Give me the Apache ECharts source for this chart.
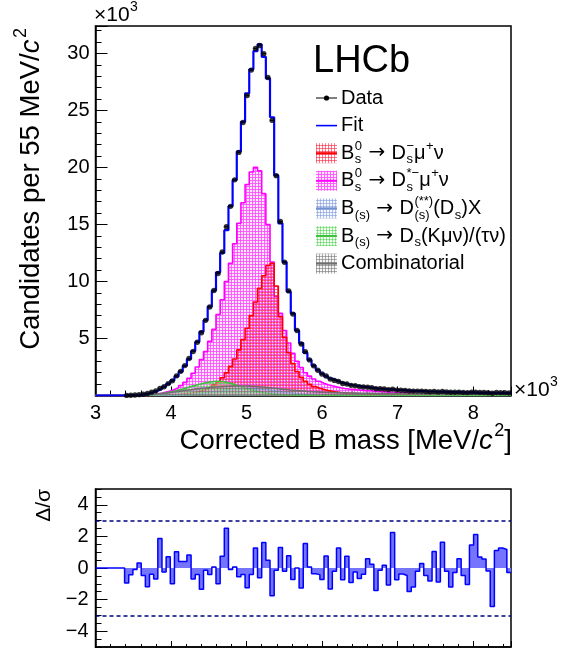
<!DOCTYPE html>
<html><head><meta charset="utf-8">
<script src="https://cdn.jsdelivr.net/npm/echarts@6/dist/echarts.min.js"></script>
<style>html,body{margin:0;padding:0;background:#fff}#c{width:561px;height:652px}</style>
</head><body><div id="c"></div>
<script>
// ---- binning (corrected B mass, in units of 10^3 MeV/c^2) ----
const binLow = 3.0, binWidth = 0.055, nBins = 100;

// ---- values per bin (x10^3 candidates) ----
const fitTotal = [
0,0,0,0,0,0,0,0.01,0.02,0.04,
0.07,0.12,0.2,0.3,0.42,0.58,0.78,1.02,1.32,1.68,
2.1,2.6,3.2,3.9,4.7,5.6,6.6,7.8,9.2,10.8,
12.5,14.5,16.6,18.9,21.4,24.0,26.5,28.6,30.2,30.8,
29.7,27.8,24.4,19.3,15.1,11.7,9.1,7.2,5.7,4.6,
3.75,3.12,2.62,2.23,1.92,1.68,1.49,1.33,1.19,1.07,
0.98,0.92,0.86,0.80,0.75,0.71,0.67,0.63,0.60,0.57,
0.54,0.51,0.49,0.47,0.45,0.43,0.41,0.39,0.38,0.36,
0.35,0.34,0.33,0.32,0.31,0.30,0.29,0.29,0.28,0.27,
0.27,0.26,0.26,0.25,0.25,0.24,0.24,0.23,0.23,0.23];

const dataCounts = [
null,null,null,null,null,null,null,0.007,0.018,0.039,
0.073,0.115,0.183,0.293,0.406,0.625,0.773,1.043,1.284,1.722,
2.119,2.621,3.246,3.857,4.672,5.499,6.588,7.764,9.206,10.696,
12.584,14.803,16.587,18.908,21.318,23.936,26.296,28.531,30.421,30.691,
29.977,27.882,24.125,19.279,15.26,11.678,9.174,7.139,5.7,4.514,
3.845,3.123,2.602,2.21,1.888,1.711,1.439,1.322,1.234,1.046,
1.003,0.892,0.853,0.781,0.739,0.726,0.676,0.594,0.596,0.574,
0.515,0.561,0.474,0.462,0.44,0.399,0.386,0.386,0.385,0.351,
0.334,0.359,0.314,0.349,0.306,0.279,0.285,0.30,0.272,0.253,
0.294,0.294,0.271,0.259,0.247,0.202,0.257,0.249,0.248,0.226];

const dsMuNu = [
0,0,0,0,0,0,0,0,0,0,
0,0,0,0,0,0,0.03,0.04,0.06,0.08,
0.11,0.15,0.2,0.27,0.35,0.45,0.58,0.75,0.95,1.2,
1.55,2.0,2.55,3.2,4.0,4.9,5.9,7.0,8.2,9.4,
10.5,11.4,11.6,9.6,6.9,5.1,3.75,2.8,2.1,1.6,
1.25,0.98,0.78,0.63,0.52,0.43,0.36,0.3,0.26,0.22,
0.19,0.17,0.15,0.13,0.12,0.11,0.1,0.09,0.08,0.08,
0.07,0.07,0.07,0.06,0.06,0.06,0.06,0.05,0.05,0.05,
0.05,0.05,0.05,0.05,0.045,0.045,0.045,0.04,0.04,0.04,
0.04,0.04,0.035,0.035,0.035,0.035,0.03,0.03,0.03,0.03];

const dsStarMuNu = [
0,0,0,0,0,0,0,0,0,0,
0,0,0.08,0.12,0.16,0.22,0.3,0.4,0.52,0.68,
0.88,1.15,1.5,1.95,2.5,3.15,3.85,4.75,5.8,7.1,
8.4,10.0,11.6,13.3,15.1,16.9,18.5,19.6,20.0,19.7,
17.7,15.0,11.7,8.7,7.2,5.7,4.6,3.7,3.0,2.45,
2.0,1.7,1.45,1.25,1.08,0.95,0.85,0.76,0.68,0.62,
0.57,0.54,0.5,0.47,0.43,0.41,0.38,0.36,0.34,0.31,
0.3,0.27,0.25,0.24,0.22,0.21,0.19,0.18,0.17,0.16,
0.15,0.14,0.14,0.13,0.12,0.12,0.11,0.11,0.1,0.1,
0.1,0.09,0.09,0.09,0.08,0.08,0.08,0.07,0.07,0.07];

const dDsX = [
0,0,0,0,0,0,0,0,0,0,
0,0,0,0,0,0,0.01,0.015,0.02,0.035,
0.05,0.07,0.1,0.13,0.17,0.21,0.26,0.3,0.35,0.4,
0.45,0.49,0.53,0.56,0.58,0.59,0.6,0.59,0.58,0.55,
0.52,0.48,0.43,0.38,0.33,0.28,0.24,0.2,0.16,0.13,
0.1,0.08,0.06,0.05,0.04,0.03,0.02,0.02,0.01,0.01,
0.01,0.01,0.01,0.01,0.01,0.005,0.005,0.005,0.005,0.005,
0,0,0,0,0,0,0,0,0,0,
0,0,0,0,0,0,0,0,0,0,
0,0,0,0,0,0,0,0,0,0];

const dsKMuNuTauNu = [
0,0,0,0,0,0,0,0,0,0,
0.02,0.03,0.05,0.08,0.12,0.17,0.23,0.3,0.38,0.47,
0.57,0.67,0.78,0.88,0.98,1.07,1.15,1.21,1.25,1.25,
1.2,1.12,1.02,0.9,0.78,0.66,0.55,0.45,0.36,0.28,
0.22,0.17,0.13,0.1,0.08,0.06,0.05,0.04,0.03,0.02,
0.02,0.015,0.015,0.01,0.01,0.01,0.01,0.008,0.008,0.006,
0.005,0.005,0.005,0.005,0.005,0.005,0.005,0.005,0.005,0.005,
0.003,0.003,0.003,0.003,0.003,0.003,0.003,0.003,0.003,0.003,
0.002,0.002,0.002,0.002,0.002,0.002,0.002,0.002,0.002,0.002,
0.002,0.002,0.002,0.002,0.002,0.002,0.002,0.002,0.002,0.002];

const combinatorial = [
0,0,0,0,0,0,0,0.005,0.01,0.02,
0.035,0.05,0.07,0.1,0.13,0.17,0.21,0.26,0.31,0.36,
0.41,0.46,0.51,0.56,0.6,0.64,0.68,0.71,0.74,0.77,
0.79,0.81,0.82,0.83,0.83,0.83,0.82,0.8,0.78,0.75,
0.72,0.68,0.64,0.6,0.56,0.52,0.48,0.45,0.42,0.39,
0.36,0.34,0.32,0.3,0.28,0.27,0.26,0.25,0.24,0.23,
0.22,0.21,0.21,0.2,0.2,0.19,0.19,0.18,0.18,0.18,
0.17,0.17,0.17,0.16,0.16,0.16,0.16,0.15,0.15,0.15,
0.15,0.15,0.14,0.14,0.14,0.14,0.14,0.14,0.14,0.13,
0.13,0.13,0.13,0.13,0.13,0.13,0.13,0.13,0.13,0.13];

const pulls = [
0,0,0,0,0,0,0,-0.95,-0.43,-0.1,
0.32,-0.47,-1.18,-0.4,-0.69,1.87,-0.26,0.71,-1.0,1.03,
0.41,0.41,0.82,-0.69,-0.41,-1.35,-0.15,-0.41,0.06,-1.0,
0.75,2.52,-0.1,0.06,-0.56,-0.41,-1.25,-0.41,1.27,-0.62,
1.61,0.49,-1.76,-0.15,1.3,-0.2,0.78,-0.72,0.0,-1.27,
1.55,0.06,-0.36,-0.42,-0.72,0.76,-1.33,-0.21,1.27,-0.74,
0.74,-0.91,-0.25,-0.66,-0.4,0.59,0.23,-1.42,-0.15,0.17,
-1.08,2.25,-0.74,-0.38,-0.47,-1.48,-1.2,-0.21,0.28,-0.47,
-0.83,1.04,-0.89,1.63,-0.21,-1.2,-0.28,0.59,-0.47,-1.04,
1.46,2.12,0.7,0.57,-0.19,-2.44,1.1,1.27,1.17,-0.28];

const pullBands = [3, -3];
const pullTicks = [-4, -2, 0, 2, 4];

// ---- helpers ----
const FONT = '"Liberation Sans", Arial, Helvetica, sans-serif';
const ARROW_FONT = '"DejaVu Sans", sans-serif';
const edge = i => +(binLow + binWidth * i).toFixed(4);
const xMax = edge(nBins);
const hist = vals => vals.map((v, i) => [edge(i), v]).concat([[edge(vals.length), vals[vals.length - 1]]]);

function makePattern(line, cell, off) {
  const c = document.createElement('canvas'); c.width = 3; c.height = 3;
  const g = c.getContext('2d');
  if (cell) { g.fillStyle = cell; g.fillRect(0, 0, 3, 3); }
  g.fillStyle = line; g.fillRect(0, off, 3, 1); g.fillRect(off, 0, 1, 3);
  return { image: c, repeat: 'repeat' };
}
const patMag = makePattern('rgba(255,70,255,0.8)', 'rgba(255,215,255,0.6)', 0);
const patRed = makePattern('rgba(255,30,60,0.6)', null, 1);
const patBlue = makePattern('rgba(110,140,215,0.5)', 'rgba(220,230,250,0.3)', 2);
const patGreen = makePattern('rgba(60,205,60,0.5)', 'rgba(220,250,220,0.3)', 2);
const patGrey = makePattern('rgba(100,100,100,0.5)', 'rgba(225,225,225,0.3)', 1);

const comps = [
  { name: 'dsStar', vals: dsStarMuNu, color: '#ff00ff', pat: patMag, z: 2 },
  { name: 'ds', vals: dsMuNu, color: '#ff0000', pat: patRed, z: 3 },
  { name: 'ddsx', vals: dDsX, color: '#7090d0', pat: patBlue, z: 4 },
  { name: 'tau', vals: dsKMuNuTauNu, color: '#40c040', pat: patGreen, z: 5 },
  { name: 'comb', vals: combinatorial, color: '#707070', pat: patGrey, z: 6 }
];

const mctx = document.createElement('canvas').getContext('2d');
function tw(s, size, italic, fam) { mctx.font = (italic ? 'italic ' : '') + size + 'px ' + (fam || FONT); return mctx.measureText(s).width; }
function txt(x, y, s, size, italic, color, fam) {
  return { type: 'text', x: x, y: y, silent: true,
    style: { text: s, font: (italic ? 'italic ' : '') + size + 'px ' + (fam || FONT), fill: color || '#000',
      textAlign: 'left', textVerticalAlign: 'middle' } };
}
function layout(tokens, size, color) {
  const els = []; let x = 0; const small = Math.round(size * 0.66);
  tokens.forEach(tk => {
    if (typeof tk === 'string') { els.push(txt(x, 0, tk, size, false, color)); x += tw(tk, size); }
    else if (tk.it) { els.push(txt(x, 0, tk.it, size, true, color)); x += tw(tk.it, size, true) + 1; }
    else if (tk.sym) { els.push(txt(x, 0, tk.sym, size, false, color, ARROW_FONT)); x += tw(tk.sym, size, false, ARROW_FONT); }
    else {
      let w = 0;
      if (tk.sup) { els.push(txt(x + 0.5, -size * 0.36, tk.sup, small, false, color)); w = Math.max(w, tw(tk.sup, small)); }
      if (tk.sub) { els.push(txt(x + 0.5, size * 0.33, tk.sub, small, false, color)); w = Math.max(w, tw(tk.sub, small)); }
      x += w + 0.5;
    }
  });
  return { els, width: x };
}
function textGroup(tokens, size, x, y, opt) {
  opt = opt || {};
  const L = layout(tokens, size, opt.color);
  let shift = 0;
  if (opt.align === 'right') shift = -L.width;
  L.els.forEach(e => { e.x += shift; });
  return { type: 'group', x: x, y: y, rotation: opt.rotate ? Math.PI / 2 : 0, children: L.els, silent: true };
}

// ---- legend ----
const ARROW = { sym: ' \u2192 ' };
const legendItems = [
  { kind: 'data', tokens: ['Data'] },
  { kind: 'line', color: '#0000ff', tokens: ['Fit'] },
  { kind: 'box', color: '#ff0000', pat: patRed, tokens: ['B', { sup: '0', sub: 's' }, ARROW, 'D', { sup: '\u2212', sub: 's' }, '\u03bc', { sup: '+' }, '\u03bd'] },
  { kind: 'box', color: '#ff00ff', pat: patMag, tokens: ['B', { sup: '0', sub: 's' }, ARROW, 'D', { sup: '*\u2212', sub: 's' }, '\u03bc', { sup: '+' }, '\u03bd'] },
  { kind: 'box', color: '#7090d0', pat: patBlue, tokens: ['B', { sub: '(s)' }, ARROW, 'D', { sup: '(**)', sub: '(s)' }, '(D', { sub: 's' }, ')X'] },
  { kind: 'box', color: '#40c040', pat: patGreen, tokens: ['B', { sub: '(s)' }, ARROW, 'D', { sub: 's' }, '(K\u03bc\u03bd)/(\u03c4\u03bd)'] },
  { kind: 'box', color: '#707070', pat: patGrey, tokens: ['Combinatorial'] }
];
const legendY0 = 98, legendDy = 27.6, symX = 316, symW = 21, textX = 341;
const graphics = [];
legendItems.forEach((it, k) => {
  const y = legendY0 + k * legendDy;
  if (it.kind === 'data') {
    graphics.push({ type: 'line', silent: true, shape: { x1: symX, y1: y, x2: symX + symW, y2: y }, style: { stroke: '#000', lineWidth: 1 } });
    graphics.push({ type: 'circle', silent: true, shape: { cx: symX + symW / 2, cy: y, r: 2.6 }, style: { fill: '#000' } });
  } else if (it.kind === 'line') {
    graphics.push({ type: 'line', silent: true, shape: { x1: symX, y1: y, x2: symX + symW, y2: y }, style: { stroke: it.color, lineWidth: 1.6 } });
  } else {
    graphics.push({ type: 'rect', silent: true, shape: { x: symX, y: y - 10, width: symW, height: 20 }, style: { fill: it.pat } });
    graphics.push({ type: 'line', silent: true, shape: { x1: symX, y1: y, x2: symX + symW, y2: y }, style: { stroke: it.color, lineWidth: 2 } });
  }
  graphics.push(textGroup(it.tokens, 20, textX, y));
});
graphics.push(textGroup(['LHCb'], 38, 313, 62));
graphics.push(textGroup(['\u00d710', { sup: '3' }], 21, 94, 15));
graphics.push(textGroup(['\u00d710', { sup: '3' }], 21, 514, 390));
graphics.push(textGroup(['Corrected B mass [MeV/', { it: 'c' }, { sup: '2' }, ']'], 27.5, 512, 441, { align: 'right' }));
graphics.push(textGroup(['Candidates per 55 MeV/', { it: 'c' }, { sup: '2' }], 27.5, 31, 28, { align: 'right', rotate: true }));
graphics.push(textGroup(['\u0394/\u03c3'], 21, 44, 489, { align: 'right', rotate: true }));

// ---- series ----
const series = [];
comps.forEach(c => {
  series.push({ type: 'line', name: c.name, xAxisIndex: 0, yAxisIndex: 0, step: 'end', symbol: 'none', z: c.z,
    data: hist(c.vals), lineStyle: { color: c.color, width: 1.6 }, areaStyle: { color: c.pat, opacity: 1 }, silent: true });
});
const dataBins = [];
dataCounts.forEach((v, i) => { if (v !== null) dataBins.push([edge(i), edge(i + 1), v]); });
series.push({ type: 'custom', xAxisIndex: 0, yAxisIndex: 0, z: 7, silent: true, data: dataBins, encode: { x: [0, 1], y: 2 },
  renderItem: (p, api) => {
    const a = api.coord([api.value(0), api.value(2)]), b = api.coord([api.value(1), api.value(2)]);
    return { type: 'line', shape: { x1: a[0], y1: a[1], x2: b[0], y2: b[1] }, style: { stroke: '#000', lineWidth: 1 } };
  } });
series.push({ type: 'line', name: 'Fit', xAxisIndex: 0, yAxisIndex: 0, step: 'end', symbol: 'none', z: 8,
  data: hist(fitTotal), lineStyle: { color: '#0000ff', width: 2.2 }, silent: true });
series.push({ type: 'scatter', name: 'Data', xAxisIndex: 0, yAxisIndex: 0, z: 9, symbol: 'circle', symbolSize: 5.4,
  itemStyle: { color: '#000' }, silent: true,
  data: dataBins.map(d => [(d[0] + d[1]) / 2, d[2]]) });
series.push({ type: 'line', name: 'pull', xAxisIndex: 1, yAxisIndex: 1, step: 'end', symbol: 'none', z: 3,
  data: hist(pulls), lineStyle: { color: '#0000ff', width: 1.5 }, areaStyle: { color: '#7474ff', opacity: 1 }, silent: true,
  markLine: { silent: true, symbol: ['none', 'none'], label: { show: false },
    lineStyle: { color: '#000080', type: [4, 3], width: 1.5 }, data: pullBands.map(v => ({ yAxis: v })) } });

const fmtMinus = v => (v < 0 ? '\u2212' + Math.abs(v) : '' + v);
const axisCommon = { axisLine: { show: true, onZero: false, lineStyle: { color: '#000', width: 1.5 } }, splitLine: { show: false } };

const option = {
  animation: false,
  textStyle: { fontFamily: FONT },
  grid: [
    { left: 95.5, top: 26, width: 415.5, height: 369.5, show: true, borderColor: '#000', borderWidth: 1.5, outerBoundsMode: 'none', containLabel: false },
    { left: 95.5, top: 489, width: 415.5, height: 158, show: true, borderColor: '#000', borderWidth: 1.5, outerBoundsMode: 'none', containLabel: false }
  ],
  xAxis: [
    Object.assign({ type: 'value', gridIndex: 0, min: binLow, max: xMax, interval: 1,
      axisTick: { show: true, inside: true, length: 9, lineStyle: { color: '#000', width: 1 } },
      minorTick: { show: true, splitNumber: 5, length: 5, lineStyle: { color: '#000', width: 1 } },
      axisLabel: { show: true, fontSize: 20, color: '#000', margin: 8, hideOverlap: false, showMinLabel: true, showMaxLabel: true,
        formatter: v => (Math.abs(v - Math.round(v)) < 1e-6 ? '' + Math.round(v) : '') } }, axisCommon),
    Object.assign({ type: 'value', gridIndex: 1, min: binLow, max: xMax, interval: 1,
      axisTick: { show: true, inside: true, length: 6, lineStyle: { color: '#000', width: 1 } },
      minorTick: { show: true, splitNumber: 5, length: 3, lineStyle: { color: '#000', width: 1 } },
      axisLabel: { show: false } }, axisCommon)
  ],
  yAxis: [
    Object.assign({ type: 'value', gridIndex: 0, min: 0, max: 32.4, interval: 5,
      axisTick: { show: true, inside: true, length: 12, lineStyle: { color: '#000', width: 1 } },
      minorTick: { show: true, splitNumber: 5, length: 6, lineStyle: { color: '#000', width: 1 } },
      axisLabel: { show: true, fontSize: 20, color: '#000', margin: 6, hideOverlap: false,
        formatter: v => (v > 0 && Math.abs(v / 5 - Math.round(v / 5)) < 1e-6 ? '' + v : '') } }, axisCommon),
    Object.assign({ type: 'value', gridIndex: 1, min: -5, max: 5, interval: 1,
      axisTick: { show: true, inside: true, length: 12, customValues: pullTicks, lineStyle: { color: '#000', width: 1 } },
      axisLabel: { show: true, fontSize: 20, color: '#000', margin: 7, customValues: pullTicks, formatter: fmtMinus, hideOverlap: false } }, axisCommon),
    { type: 'value', gridIndex: 1, min: -5, max: 5, interval: 0.5, position: 'left',
      axisLine: { show: false }, splitLine: { show: false }, axisLabel: { show: false },
      axisTick: { show: true, inside: true, length: 6, lineStyle: { color: '#000', width: 1 } } }
  ],
  graphic: { elements: graphics },
  series: series
};
const chart = echarts.init(document.getElementById('c'), null, { renderer: 'canvas' });
chart.setOption(option);
</script>
</body></html>
